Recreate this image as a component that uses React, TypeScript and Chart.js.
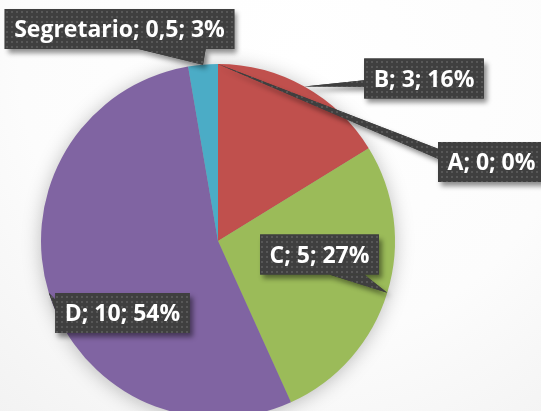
import React, { useEffect, useRef } from 'react';
import { Chart, registerables } from 'chart.js';

Chart.register(...registerables);

// ---- data ----
const categories = ['A', 'B', 'C', 'D', 'Segretario'];
const values = [0, 3, 5, 10, 0.5];
const colors = ['#4F81BD', '#C0504D', '#9BBB59', '#8064A2', '#4BACC6'];

// ---- label layout (box centres, px) ----
const labelCenters: [number, number][] = [
  [491.5, 162],
  [424, 78.5],
  [319.5, 254.5],
  [122.5, 313],
  [119.5, 29],
];

const FONT_SIZE = 23;
const FONT = `bold ${FONT_SIZE}px 'Open Sans'`;
const BOX_H = 40;
const PAD_X = 9.5;

function fmtValue(v: number) {
  return String(v).replace('.', ',');
}

function makePattern(ctx: CanvasRenderingContext2D) {
  const c = document.createElement('canvas');
  c.width = 5;
  c.height = 5;
  const p = c.getContext('2d')!;
  p.fillStyle = 'rgba(255,255,255,0.13)';
  p.fillRect(1, 1, 2, 2);
  return ctx.createPattern(c, 'repeat');
}

function wedgeBase(l: number, t: number, w: number, h: number, tx: number, ty: number) {
  const cx = l + w / 2;
  const cy = t + h / 2;
  const dx = tx - cx;
  const dy = ty - cy;
  if (Math.abs(dx) / w > Math.abs(dy) / h) {
    const x = dx < 0 ? l : l + w;
    const [a, b] = dy < 0 ? [(h * 2) / 12, (h * 5) / 12] : [(h * 6.5) / 12, (h * 8.5) / 12];
    return [
      [x, t + a],
      [x, t + b],
    ];
  }
  const y = dy < 0 ? t : t + h;
  const [a, b] = dx < 0 ? [(w * 1.5) / 12, (w * 5) / 12] : [(w * 7) / 12, (w * 10.5) / 12];
  return [
    [l + a, y],
    [l + b, y],
  ];
}

const calloutPlugin = {
  id: 'callouts',
  beforeDraw(chart: any) {
    const ctx: CanvasRenderingContext2D = chart.ctx;
    ctx.save();
    const g = ctx.createRadialGradient(300, 60, 0, 300, 60, 560);
    g.addColorStop(0, '#ffffff');
    g.addColorStop(0.5, '#fcfcfc');
    g.addColorStop(1, '#ededed');
    ctx.fillStyle = g;
    ctx.fillRect(0, 0, chart.width, chart.height);
    ctx.restore();
  },
  beforeDatasetsDraw(chart: any) {
    const ctx: CanvasRenderingContext2D = chart.ctx;
    const arc = chart.getDatasetMeta(0).data[0];
    const { x, y, outerRadius } = arc.getProps(['x', 'y', 'outerRadius'], true);
    ctx.save();
    ctx.shadowColor = 'rgba(0,0,0,0.28)';
    ctx.shadowBlur = 20;
    ctx.shadowOffsetY = 2;
    ctx.beginPath();
    ctx.arc(x, y, outerRadius - 1, 0, Math.PI * 2);
    ctx.fillStyle = '#999';
    ctx.fill();
    ctx.restore();
  },
  afterDatasetsDraw(chart: any) {
    const ctx: CanvasRenderingContext2D = chart.ctx;
    const meta = chart.getDatasetMeta(0);
    const total = values.reduce((s, v) => s + v, 0);
    const pattern = makePattern(ctx);
    ctx.save();
    ctx.font = FONT;
    meta.data.forEach((el: any, i: number) => {
      const { x, y, startAngle, endAngle, outerRadius } = el.getProps(
        ['x', 'y', 'startAngle', 'endAngle', 'outerRadius'],
        true
      );
      const mid = (startAngle + endAngle) / 2;
      const tx = x + Math.cos(mid) * outerRadius;
      const ty = y + Math.sin(mid) * outerRadius;
      const pct = Math.round((values[i] / total) * 100);
      const text = `${categories[i]}; ${fmtValue(values[i])}; ${pct}%`;
      const tw = ctx.measureText(text).width;
      const w = tw + PAD_X * 2;
      const h = BOX_H;
      const [cx, cy] = labelCenters[i];
      const l = cx - w / 2;
      const t = cy - h / 2;
      const [p1, p2] = wedgeBase(l, t, w, h, tx, ty);

      const path = new Path2D();
      path.rect(l, t, w, h);
      const tri = new Path2D();
      tri.moveTo(p1[0], p1[1]);
      tri.lineTo(tx, ty);
      tri.lineTo(p2[0], p2[1]);
      tri.closePath();

      ctx.save();
      ctx.shadowColor = 'rgba(0,0,0,0.45)';
      ctx.shadowBlur = 5;
      ctx.shadowOffsetX = 3;
      ctx.shadowOffsetY = 4;
      ctx.fillStyle = '#3f3f3f';
      ctx.fill(tri);
      ctx.fill(path);
      ctx.restore();

      ctx.fillStyle = '#3f3f3f';
      ctx.fill(tri);
      ctx.fill(path);
      if (pattern) {
        ctx.fillStyle = pattern;
        ctx.fill(tri);
        ctx.fill(path);
      }

      ctx.fillStyle = '#ffffff';
      ctx.textAlign = 'center';
      ctx.textBaseline = 'alphabetic';
      ctx.fillText(text, cx, cy + FONT_SIZE * 0.714 / 2);
    });
    ctx.restore();
  },
};

export default function App() {
  const ref = useRef<HTMLCanvasElement | null>(null);
  useEffect(() => {
    document.body.style.margin = '0';
    const canvas = ref.current!;
    const chart = new Chart(canvas, {
      type: 'pie',
      data: {
        labels: categories,
        datasets: [
          {
            data: values,
            backgroundColor: colors,
            borderWidth: 0,
            hoverOffset: 0,
            offset: 0,
          },
        ],
      },
      options: {
        responsive: false,
        animation: false,
        layout: { padding: { left: 41, right: 146, top: 64, bottom: 12 } },
        plugins: {
          legend: { display: false },
          tooltip: { enabled: false },
        },
        events: [],
      },
      plugins: [calloutPlugin],
    });
    return () => chart.destroy();
  }, []);
  return (
    <div style={{ width: 541, height: 411, overflow: 'hidden', position: 'relative' }}>
      <canvas ref={ref} width={541} height={430} style={{ display: 'block' }} />
    </div>
  );
}
